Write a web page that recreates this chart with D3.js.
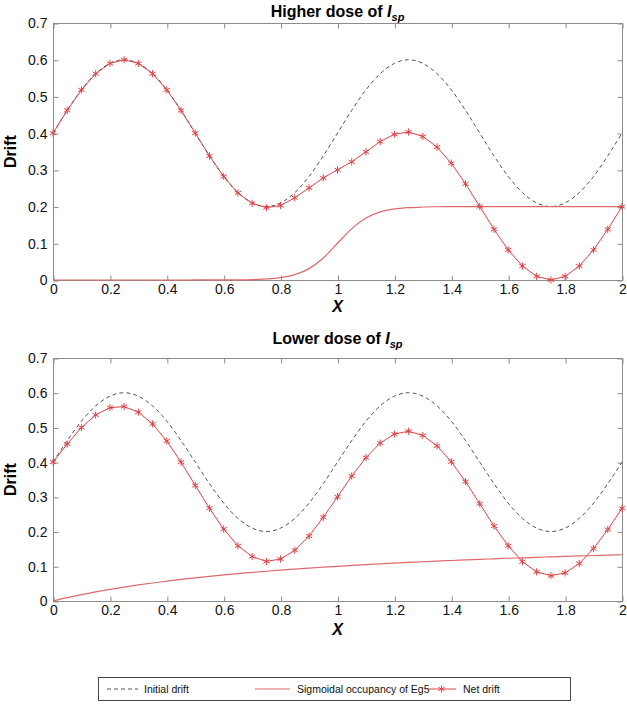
<!DOCTYPE html>
<html>
<head>
<meta charset="utf-8">
<script src="https://cdn.jsdelivr.net/npm/d3@7"></script>
<style>
body{margin:0;background:#fff;}
text{font-family:"Liberation Sans",Arial,sans-serif;}
</style>
</head>
<body>
<svg id="chart" width="627" height="705"></svg>
<script>
// ---- data ----
const xValues = [0,0.05,0.1,0.15,0.2,0.25,0.3,0.35,0.4,0.45,0.5,0.55,0.6,0.65,0.7,0.75,0.8,0.85,0.9,0.95,1.0,
  1.05,1.1,1.15,1.2,1.25,1.3,1.35,1.4,1.45,1.5,1.55,1.6,1.65,1.7,1.75,1.8,1.85,1.9,1.95,2.0];
const initialDrift = [0.4,0.462,0.518,0.562,0.590,0.6,0.590,0.562,0.518,0.462,0.4,0.338,0.282,0.238,0.210,0.2,0.210,0.238,0.282,0.338,0.4,
  0.462,0.518,0.562,0.590,0.6,0.590,0.562,0.518,0.462,0.4,0.338,0.282,0.238,0.210,0.2,0.210,0.238,0.282,0.338,0.4];
const occupancyHigh = [0,0,0,0,0,0,0,0,0,0,0.0001,0.0001,0.0002,0.0005,0.0012,0.0028,0.0065,0.0145,0.031,0.060,0.100,
  0.140,0.169,0.1855,0.1935,0.1972,0.1988,0.1995,0.1998,0.1999,0.2,0.2,0.2,0.2,0.2,0.2,0.2,0.2,0.2,0.2,0.2];
const netHigh = [0.4,0.462,0.518,0.562,0.590,0.6,0.590,0.562,0.518,0.462,0.4,0.338,0.282,0.237,0.209,0.197,0.203,0.224,0.251,0.278,0.300,
  0.322,0.349,0.377,0.397,0.403,0.391,0.362,0.318,0.262,0.200,0.138,0.082,0.038,0.010,0.0,0.010,0.038,0.082,0.138,0.200];
const occupancyLow = [0,0.0095,0.0182,0.0261,0.0333,0.04,0.0462,0.0519,0.0571,0.0621,0.0667,0.0710,0.075,0.0788,0.0824,0.0857,0.0889,0.0919,0.0947,0.0974,0.1,
  0.1024,0.1048,0.1070,0.1091,0.1111,0.1130,0.1149,0.1167,0.1184,0.12,0.1216,0.1231,0.1245,0.1259,0.1273,0.1286,0.1298,0.1310,0.1322,0.1333];
const netLow = [0.4,0.452,0.500,0.536,0.557,0.560,0.544,0.510,0.461,0.400,0.333,0.267,0.207,0.159,0.128,0.114,0.121,0.146,0.187,0.241,0.300,
  0.360,0.413,0.455,0.481,0.489,0.477,0.447,0.401,0.344,0.280,0.216,0.159,0.113,0.084,0.073,0.081,0.108,0.151,0.206,0.267];
const xTicks = [0,0.2,0.4,0.6,0.8,1,1.2,1.4,1.6,1.8,2];
const yTicks = [0,0.1,0.2,0.3,0.4,0.5,0.6,0.7];
const titles = [["Higher dose of ","I","sp"],["Lower dose of ","I","sp"]];
const legendLabels = ["Initial drift","Sigmoidal occupancy of Eg5","Net drift"];

const svg = d3.select("#chart");
const grayAxis = "#8c8c8c";
const dashColor = "#555";
const occColor = "#dd6a6a";
const netColor = "#dc4446";

const panels = [
  {top:23, bottom:280, occ:occupancyHigh, net:netHigh, title:titles[0], titleY:17, xlabY:312},
  {top:358, bottom:601, occ:occupancyLow, net:netLow, title:titles[1], titleY:344, xlabY:635}
];
const left = 53, right = 622;

const x = d3.scaleLinear().domain([0,2]).range([left,right]);
const asterisk = d3.symbol().type(d3.symbolAsterisk).size(36);

panels.forEach(p => {
  const y = d3.scaleLinear().domain([0,0.7]).range([p.bottom,p.top]);
  const g = svg.append("g");

  g.append("rect").attr("x",left+0.5).attr("y",p.top+0.5)
    .attr("width",right-left).attr("height",p.bottom-p.top)
    .attr("fill","none").attr("stroke",grayAxis).attr("stroke-width",1);

  const xb = g.append("g").attr("transform",`translate(0.5,${p.bottom+0.5})`)
    .call(d3.axisBottom(x).tickValues(xTicks).tickSizeInner(-5).tickSizeOuter(0).tickPadding(4)
      .tickFormat(d=>String(d)));
  const xt = g.append("g").attr("transform",`translate(0.5,${p.top+0.5})`)
    .call(d3.axisTop(x).tickValues(xTicks).tickSizeInner(-5).tickSizeOuter(0).tickFormat(""));
  const yl = g.append("g").attr("transform",`translate(${left+0.5},0.5)`)
    .call(d3.axisLeft(y).tickValues(yTicks).tickSizeInner(-5).tickSizeOuter(0).tickPadding(6)
      .tickFormat(d=>String(+d.toFixed(1))));
  const yr = g.append("g").attr("transform",`translate(${right+0.5},0.5)`)
    .call(d3.axisRight(y).tickValues(yTicks).tickSizeInner(-5).tickSizeOuter(0).tickFormat(""));
  [xb,xt,yl,yr].forEach(a=>{
    a.select(".domain").remove();
    a.selectAll("line").attr("stroke",grayAxis);
    a.selectAll("text").attr("fill","#111").style("font-size","14px")
      .style("font-family","'Liberation Sans',Arial,sans-serif");
  });

  const line = d3.line().x((d,i)=>x(xValues[i])).y(d=>y(d)).curve(d3.curveMonotoneX);

  g.append("path").datum(initialDrift).attr("d",line)
    .attr("fill","none").attr("stroke",dashColor).attr("stroke-width",1)
    .attr("stroke-dasharray","4,3");
  g.append("path").datum(p.occ).attr("d",line)
    .attr("fill","none").attr("stroke",occColor).attr("stroke-width",1.2);
  g.append("path").datum(p.net).attr("d",d3.line().x((d,i)=>x(xValues[i])).y(d=>y(d)))
    .attr("fill","none").attr("stroke",netColor).attr("stroke-width",1);
  g.selectAll(".mk").data(p.net).enter().append("path")
    .attr("transform",(d,i)=>`translate(${x(xValues[i])},${y(d)})`)
    .attr("d",asterisk).attr("fill","none").attr("stroke",netColor).attr("stroke-width",1);

  const t = g.append("text").attr("x",(left+right)/2).attr("y",p.titleY)
    .attr("text-anchor","middle").style("font-size","16px").style("font-weight","bold");
  t.append("tspan").text(p.title[0]);
  t.append("tspan").style("font-style","italic").text(p.title[1]);
  t.append("tspan").style("font-style","italic").style("font-size","11px").attr("dy",4).text(p.title[2]);

  g.append("text").attr("x",(left+right)/2).attr("y",p.xlabY).attr("text-anchor","middle")
    .style("font-size","16px").style("font-weight","bold").style("font-style","italic").text("X");
  g.append("text").attr("transform",`translate(16,${(p.top+p.bottom)/2}) rotate(-90)`)
    .attr("text-anchor","middle").style("font-size","16px").style("font-weight","bold").text("Drift");
});

// legend
const lg = svg.append("g");
lg.append("rect").attr("x",98.5).attr("y",677.5).attr("width",472).attr("height",23)
  .attr("fill","#fff").attr("stroke","#444").attr("stroke-width",1);
const ly = 689;
const items = [
  {x0:107, x1:138, tx:144, style:"dash"},
  {x0:255, x1:290, tx:297, style:"occ"},
  {x0:427, x1:456, tx:463, style:"net"}
];
items.forEach((it,i)=>{
  const l = lg.append("line").attr("x1",it.x0).attr("x2",it.x1).attr("y1",ly).attr("y2",ly)
    .attr("stroke-width",1);
  if(it.style==="dash") l.attr("stroke",dashColor).attr("stroke-dasharray","4,3");
  else if(it.style==="occ") l.attr("stroke",occColor).attr("stroke-width",1.2);
  else {
    l.attr("stroke",netColor);
    lg.append("path").attr("transform",`translate(${(it.x0+it.x1)/2},${ly})`).attr("d",asterisk)
      .attr("fill","none").attr("stroke",netColor);
  }
  lg.append("text").attr("x",it.tx).attr("y",ly+4).style("font-size","10.5px").attr("fill","#111")
    .text(legendLabels[i]);
});
</script>
</body>
</html>
